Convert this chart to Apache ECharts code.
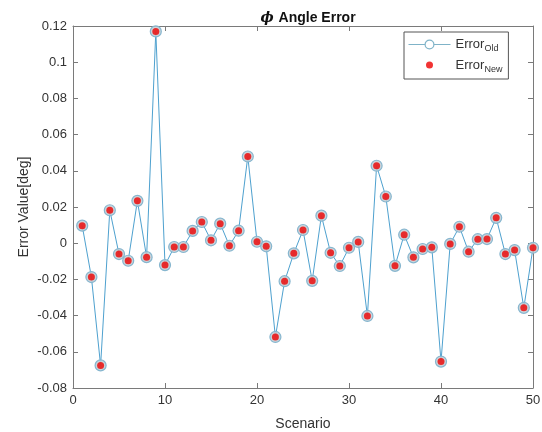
<!DOCTYPE html>
<html>
<head>
<meta charset="utf-8">
<script src="https://cdn.jsdelivr.net/npm/echarts@6/dist/echarts.min.js"></script>
<style>html,body{margin:0;padding:0;background:#fff}#c{width:542px;height:432px}</style>
</head>
<body>
<div id="c"></div>
<script>
const scenarios = [1,2,3,4,5,6,7,8,9,10,11,12,13,14,15,16,17,18,19,20,21,22,23,24,25,26,27,28,29,30,31,32,33,34,35,36,37,38,39,40,41,42,43,44,45,46,47,48,49,50];
const errorOld = [0.0097,-0.0187,-0.0675,0.0182,-0.0060,-0.0097,0.0234,-0.0077,0.1170,-0.0121,
  -0.0021,-0.0021,0.0068,0.0117,0.0016,0.0108,-0.0014,0.0069,0.0479,0.0008,
  -0.0017,-0.0518,-0.0210,-0.0056,0.0073,-0.0208,0.0152,-0.0053,-0.0126,-0.0025,
  0.0007,-0.0402,0.0428,0.0258,-0.0125,0.0047,-0.0078,-0.0032,-0.0023,-0.0654,
  -0.0004,0.0091,-0.0047,0.0022,0.0023,0.0140,-0.0060,-0.0038,-0.0357,-0.0025];
const errorNew = [0.0097,-0.0187,-0.0675,0.0182,-0.0060,-0.0097,0.0234,-0.0077,0.1170,-0.0121,
  -0.0021,-0.0021,0.0068,0.0117,0.0016,0.0108,-0.0014,0.0069,0.0479,0.0008,
  -0.0017,-0.0518,-0.0210,-0.0056,0.0073,-0.0208,0.0152,-0.0053,-0.0126,-0.0025,
  0.0007,-0.0402,0.0428,0.0258,-0.0125,0.0047,-0.0078,-0.0032,-0.0023,-0.0654,
  -0.0004,0.0091,-0.0047,0.0022,0.0023,0.0140,-0.0060,-0.0038,-0.0357,-0.0025];
const xTickLabels = ["0","10","20","30","40","50"];
const yTickLabels = ["-0.08","-0.06","-0.04","-0.02","0","0.02","0.04","0.06","0.08","0.1","0.12"];

const FONT = '"Liberation Sans", Arial, Helvetica, sans-serif';
const AX = '#7a7a7a';
const TXT = '#333333';
const chart = echarts.init(document.getElementById('c'), null, {renderer:'canvas'});

const oldData = scenarios.map((s,i)=>[s, errorOld[i]]);
const newData = scenarios.map((s,i)=>[s, errorNew[i]]);

function axisBase(){
  return {
    axisLine:{show:true, onZero:false, lineStyle:{color:AX, width:1}},
    axisTick:{show:true, inside:true, length:5, lineStyle:{color:AX}},
    splitLine:{show:false}
  };
}

chart.setOption({
  backgroundColor:'#ffffff',
  animation:false,
  title:{
    text:'{p|ϕ} {b|Angle Error}',
    left:303, top:4, textAlign:'center',
    textStyle:{rich:{
      p:{fontFamily:'"DejaVu Serif", serif', fontStyle:'italic', fontSize:14, color:'#111'},
      b:{fontFamily:FONT, fontWeight:'bold', fontSize:14, color:'#111'}
    }}
  },
  grid:{left:73, right:9, top:26, bottom:44, containLabel:false, outerBoundsMode:'none'},
  legend:{
    orient:'vertical',
    left:404, top:32,
    width:103,
    padding:[6,6,5,4],
    itemGap:5,
    itemWidth:42, itemHeight:11,
    borderColor:'#555', borderWidth:1, backgroundColor:'#fff',
    data:[
      {name:'Error Old', itemStyle:{color:'#ffffff', borderColor:'#7fb3c8', borderWidth:1.2}, lineStyle:{color:'#7fb3c8', width:1}},
      {name:'Error New', icon:'path://M0,0L0,0M42,11L42,11M17.5,5.5a3.5,3.5 0 1,0 7,0a3.5,3.5 0 1,0 -7,0Z'}
    ],
    formatter:function(n){
      const parts = n.split(' ');
      return '{m|'+parts[0]+'}{s|'+parts[1]+'}';
    },
    textStyle:{
      rich:{
        m:{fontFamily:FONT, fontSize:13, color:TXT},
        s:{fontFamily:FONT, fontSize:9, color:TXT, padding:[9,0,0,0]}
      }
    }
  },
  xAxis:[
    Object.assign(axisBase(),{
      type:'value', min:0, max:50, interval:10, position:'bottom',
      name:'Scenario', nameLocation:'middle', nameGap:29,
      nameTextStyle:{fontFamily:FONT, fontSize:14, color:TXT},
      axisLabel:{fontFamily:FONT, fontSize:13, color:TXT, margin:6,
        formatter:function(v){return xTickLabels[Math.round(v/10)];}}
    }),
    Object.assign(axisBase(),{
      type:'value', min:0, max:50, interval:10, position:'top',
      axisLabel:{show:false}
    })
  ],
  yAxis:[
    Object.assign(axisBase(),{
      type:'value', min:-0.08, max:0.12, interval:0.02, position:'left',
      name:'Error Value[deg]', nameLocation:'middle', nameGap:42, nameRotate:90,
      nameMoveOverlap:false,
      nameTextStyle:{fontFamily:FONT, fontSize:14, color:TXT},
      axisLabel:{fontFamily:FONT, fontSize:13, color:TXT, margin:6,
        formatter:function(v){return yTickLabels[Math.round((v+0.08)/0.02)];}}
    }),
    Object.assign(axisBase(),{
      type:'value', min:-0.08, max:0.12, interval:0.02, position:'right',
      axisLabel:{show:false}
    })
  ],
  series:[
    {
      name:'Error Old', type:'line', xAxisIndex:0, yAxisIndex:0,
      data:oldData,
      symbol:'circle', symbolSize:11,
      lineStyle:{color:'#4ea1cf', width:1},
      itemStyle:{color:'rgba(196,204,210,0.85)', borderColor:'#86b6cf', borderWidth:1.2},
      z:2
    },
    {
      name:'Error New', type:'scatter', xAxisIndex:0, yAxisIndex:0,
      data:newData,
      symbol:'circle', symbolSize:7,
      itemStyle:{color:'#ee0000'},
      z:3
    }
  ]
});
</script>
</body>
</html>
